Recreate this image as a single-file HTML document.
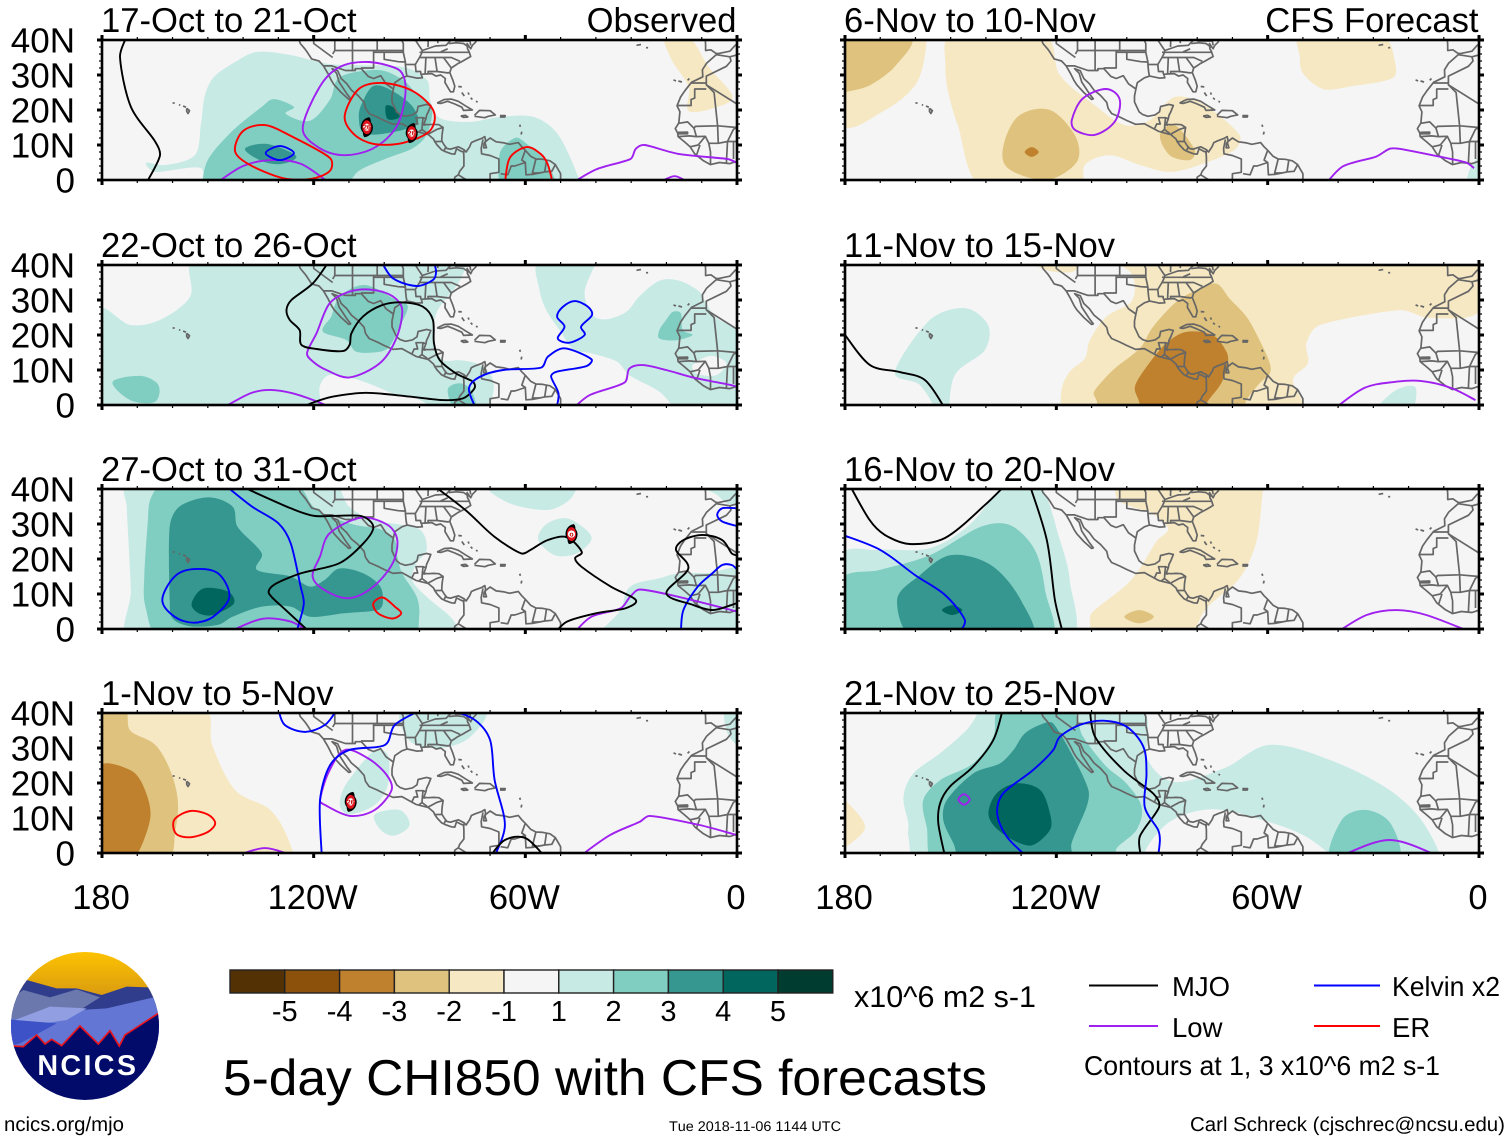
<!DOCTYPE html>
<html>
<head>
<meta charset="utf-8">
<title>5-day CHI850 with CFS forecasts</title>
<style>
html,body{margin:0;padding:0;background:#fff}
svg{display:block}
text{font-family:"Liberation Sans",sans-serif;fill:#000;font-kerning:none;text-rendering:geometricPrecision}
</style>
</head>
<body>
<svg id="chart" xmlns="http://www.w3.org/2000/svg" width="1510" height="1141" viewBox="0 0 1510 1141">
<rect width="1510" height="1141" fill="#fff"/>
<g id="panels"></g>
<g id="colorbar"></g>
<text x="854" y="1007" font-size="30" textLength="182" lengthAdjust="spacingAndGlyphs">x10^6 m2 s-1</text>
<text x="223" y="1095" font-size="50.5" textLength="764" lengthAdjust="spacingAndGlyphs">5-day CHI850 with CFS forecasts</text>
<g>
<line x1="1089" x2="1158" y1="985.5" y2="985.5" stroke="#000" stroke-width="2"/>
<text x="1172" y="996" font-size="27.5">MJO</text>
<line x1="1314" x2="1380" y1="985.5" y2="985.5" stroke="#0000ff" stroke-width="2"/>
<text x="1392" y="996" font-size="27.5" textLength="108" lengthAdjust="spacingAndGlyphs">Kelvin x2</text>
<line x1="1089" x2="1158" y1="1026" y2="1026" stroke="#a020f0" stroke-width="2"/>
<text x="1172" y="1037" font-size="27.5">Low</text>
<line x1="1314" x2="1380" y1="1026" y2="1026" stroke="#ff0000" stroke-width="2"/>
<text x="1392" y="1037" font-size="27.5">ER</text>
<text x="1084" y="1075" font-size="27.2" textLength="356" lengthAdjust="spacingAndGlyphs">Contours at 1, 3 x10^6 m2 s-1</text>
</g>
<g transform="translate(0,940) scale(0.3333)">
<defs>
<clipPath id="logoClip"><circle cx="255" cy="258" r="222"/></clipPath>
<linearGradient id="sun" x1="0" y1="0" x2="0" y2="1"><stop offset="0" stop-color="#ffc400"/><stop offset="1" stop-color="#d89a10"/></linearGradient>
</defs>
<g clip-path="url(#logoClip)">
<rect x="20" y="30" width="470" height="140" fill="url(#sun)"/>
<polygon points="20,170 80,120 170,145 230,145 305,165 380,140 445,142 500,170 500,300 20,300" fill="#2f3d8c"/>
<polygon points="20,185 70,150 150,172 230,148 300,172 240,210 20,250" fill="#6b78ae"/>
<polygon points="20,240 240,210 320,205 470,170 500,220 500,330 20,330" fill="#6476d4"/>
<polygon points="45,240 150,200 260,205 200,240 100,255" fill="#919fe2"/>
<polygon points="20,238 170,250 60,310 20,320" fill="#3c52c6"/>
<polygon points="40,318 70,320 110,285 135,312 155,298 185,317 240,258 295,312 330,272 358,318 375,285 475,220 500,220 500,500 10,500 10,318" fill="#020a6a" stroke="#e8141e" stroke-width="5"/>
</g>
<text x="112" y="405" font-size="86" font-weight="bold" textLength="296" style="fill:#fff">NCICS</text>
</g>
<text x="4" y="1131" font-size="20.2" textLength="120" lengthAdjust="spacingAndGlyphs">ncics.org/mjo</text>
<text x="669" y="1131" font-size="14" textLength="172" lengthAdjust="spacingAndGlyphs">Tue 2018-11-06 1144 UTC</text>
<text x="1190" y="1131" font-size="20" textLength="315" lengthAdjust="spacingAndGlyphs">Carl Schreck (cjschrec@ncsu.edu)</text>
</svg>
<script>
/* ---------- axis tick data ---------- */
const latTicks = [0, 10, 20, 30, 40];
const latLabels = ["0", "10N", "20N", "30N", "40N"];
const lonTicks = [180, 120, 60, 0];
const lonLabels = ["180", "120W", "60W", "0"];

/* ---------- colour scale ---------- */
const cbarLabels = ["-5", "-4", "-3", "-2", "-1", "1", "2", "3", "4", "5"];
const cbarKeys = [-6, -5, -4, -3, -2, 0, 2, 3, 4, 5, 6];

/* ---------- panel titles ---------- */
const leftTitles = ["17-Oct to 21-Oct", "22-Oct to 26-Oct", "27-Oct to 31-Oct", "1-Nov to 5-Nov"];
const rightTitles = ["6-Nov to 10-Nov", "11-Nov to 15-Nov", "16-Nov to 20-Nov", "21-Nov to 25-Nov"];

/* ---------- map outlines: [degrees west, degrees north] ---------- */
const mapLines = [
[[124.3,40.5],[123.8,39],[122.5,37.5],[121.8,36.5],[120.6,34.6],[118.5,34],[117.2,32.6],[116,30.5],[115,28.5],[114.2,27.2],[112.2,25],[110,23],[109.5,23.2],[110.5,24.5],[111.5,26],[112.8,28],[113.5,30.5],[114.8,31.8],[113.2,31.2],[112.2,29],[110.6,27.5],[109.3,25.7],[107.5,24.2],[105.7,22.2],[105.3,20.5],[104.3,19],[102,18],[100,17],[97.5,15.9],[95,16.1],[93,15],[91,13.9],[88,13.1],[87.5,13],[86,11.7],[85.7,11],[85,10],[83.7,8.6],[82.9,8.2],[81,7.5],[80,7.4],[79.5,8.9],[78.2,8.2],[77.5,8],[77.4,6.5],[77.4,4],[78.6,2.5],[79,1.5],[80,0.8],[80.2,-1]],
[[74,40.5],[74,39.5],[75,38.5],[75.5,37.5],[76.2,38.5],[76.5,39],[76.4,37.5],[76,36.8],[75.5,35.3],[76.5,34.7],[77.9,33.9],[79.2,33.2],[81,32],[81.4,30.7],[80.5,28.4],[80,26.8],[80.4,25.2],[81.2,25.2],[81.8,26.2],[82.8,27.9],[82.7,29],[84,30],[85.3,29.7],[86.5,30.4],[88,30.3],[89.5,30.2],[89.2,29.2],[90.8,29.1],[93.5,29.7],[95,29.2],[97,27.8],[97.4,26],[97.8,24],[97.8,22.3],[96.5,19.5],[95.5,18.7],[94,18.2],[92,18.6],[90.7,19.5],[90.4,21],[88,21.6],[86.8,21.3],[87.5,19.5],[88,18.5],[88.2,17.5],[88.8,15.9],[87.5,15.8],[86,15.9],[84.5,15.8],[83.3,15],[83.6,13],[83.7,11.2],[83,10],[82.2,9],[81.2,8.8],[80,9.2],[79,9.5],[77.3,8.6],[76.8,8],[75.8,9.5],[75.3,10.7],[74.2,11.2],[72.3,11.9],[71.5,12.4],[71.2,11],[71.7,10.5],[71.8,9.2],[71,9.2],[71.5,10.8],[70,12],[68.3,10.9],[66,10.6],[64.5,10.2],[62,10.7],[61,9.5],[60,8.5],[58.5,6.8],[57,6],[55,5.9],[53,5.5],[51.5,4.4],[50,1.8],[50,0.5],[50.5,-1]],
[[85,22],[83,23],[81,23.1],[79,22.5],[77,21.2],[75,20],[77.5,19.9],[78,20.8],[80,21.7],[82,22.5],[84,21.9],[85,22]],
[[74.4,18.5],[73,19.9],[70,19.8],[68.5,18.6],[70.5,18.2],[71.5,17.8],[74.4,18.2]],
[[78.3,18.3],[77,18.5],[76.3,18],[77.5,17.9],[78.3,18.3]],
[[67.2,18.4],[65.7,18.4],[65.8,18],[67.2,18]],
[[79,26.7],[78,26.6]],[[78,25],[77.3,24]],[[76.2,25],[76,24.4]],[[75.5,23.5],[75,23]],[[74,22.5],[73.5,22.3]],
[[61.6,15.8],[61.4,15.2]],[[61,13.8],[61.2,13]],
[[160,22],[159.4,22]],[[158.2,21.5],[157.8,21.4]],[[157,21.1],[156.2,20.8]],[[156,20.5],[155.2,19.8],[155.6,19],[156,19.6],[156,20.5]],
[[28.5,38.5],[27.2,38.7]],[[25.8,37.8],[25.2,37.8]],
[[18,28.6],[17.3,28.3]],[[16.6,28.3],[15.6,28]],[[14,28.5],[13.5,29]],
[[9,40.5],[8.9,38.5],[8.9,37],[7.4,37.2],[6,36.2],[5.3,36.1],[2,36.8],[0.5,38.5],[-1,39.5]],
[[-1,36],[2,35.2],[5.9,35.8],[8.6,33.4],[9.8,31.5],[9.7,29.5],[12.9,27.9],[14.8,25.5],[16,23.7],[17,21.2],[16.2,19.5],[16.5,16.3],[17.5,14.7],[16.8,13.4],[16.7,12.4],[15,11],[13.3,9.5],[12,7.5],[9.5,5.5],[7.5,4.4],[5,5],[2,4.7],[-1,5.7]],
[[2,35.2],[1.7,34],[3,32.5],[8.7,29.7],[8.7,27.7]],
[[13,27.7],[8.7,27.7],[8.7,27.2],[0,21.7]],
[[8.7,26],[12,26],[12,23.4],[13,23],[13,21.3],[17,21.3]],
[[8.7,27.2],[6.5,25],[5.5,15.5],[11.8,15.3],[12.2,14.8],[14,16.6],[16.5,16.2]],
[[5.5,15.5],[0,15]],
[[12.2,14.8],[11.5,12.4],[13.5,12.6],[16.7,12.4]],
[[16.7,13.6],[14,13.7],[14,13.2],[16.7,13.2]],
[[11.5,12.4],[9,12.5],[8,10.5],[7.5,8],[7.5,4.4]],
[[10.5,10],[11.5,7]],[[13.3,9.5],[11,10],[9,12.5]],
[[8,10.5],[5.3,10.5],[2.7,11],[0,11]],
[[5.3,10.5],[5.5,15.5]],[[2.7,11],[3,5]],[[2.7,11],[1,14.5],[0,15]],[[1,11],[1,6]],
[[117.2,32.6],[114.8,32.6],[111,31.3],[108.2,31.3],[108.2,31.8],[106.5,31.8],[104.5,29.6],[103,29],[101,29.8],[99.5,27.5],[97.4,26]],
[[120,40.5],[120,39],[114.6,35]],[[114,40.5],[114,37],[114.6,36]],[[114,37],[94.6,37]],
[[109,40.5],[109,31.3]],[[103,37],[103,32],[106.6,32]],[[102,37],[102,40.5]],[[103,36.5],[100,36.5],[100,34.5],[96,33.8],[94,33.7]],[[100,36.5],[94.6,36.5]],
[[94.6,37],[94.6,36.5],[94,33.7],[94,33],[93.8,31],[93.6,29.8]],[[94,33],[91.2,33]],[[91.2,33],[91,31],[89.7,31],[89.6,30.2]],
[[94.6,37],[94.6,39],[95.3,40.5]],[[91.5,40.5],[90.2,38.5],[89.2,37],[89.5,36],[90,35],[91.2,33]],
[[90,36.5],[75.9,36.5]],[[90,35],[84.3,35],[81,35],[78.5,33.9]],[[88.2,35],[88.4,30.3]],[[85.6,35],[85,31],[87.6,31],[87.5,30.3]],
[[85,31],[82,30.6],[81.5,30.7]],[[83.2,35],[81,32]],[[89.2,37],[85.5,38.3],[82.5,38.5],[80.6,40.5]],[[82,37.5],[84,36.6]],[[87.5,40.5],[87.6,38]],[[84.8,40.5],[84.8,39.1]],
[[81.7,39],[79.5,39.2],[77.5,39],[76,37.9]],[[80,39.7],[75.7,39.7],[75.5,38.5]],
[[92.2,14.5],[91.5,16],[90.5,16],[91,17.8],[89,17.8],[88.2,17.5]],[[89,17.8],[89.2,15.8],[88.3,15.7]],[[89.3,14.4],[90.1,13.8]],[[89.2,15.8],[89.3,14.4],[87.8,13.3]],[[87.6,13.1],[85,14.5],[83.3,15]],
[[85.7,11],[83.7,11]],[[83,8.5],[82.5,9.5]],
[[77.3,8.6],[77.5,7.5]],[[72,11.6],[72.5,9],[72.4,7.5],[70,7],[67.5,6],[67.5,2.2],[70,1.8],[70,-1]],[[79,1.5],[75,-1]],
[[60,8.5],[61,5.7],[60,5],[63,4],[64,4],[65,1.5],[67,1.8]],[[57,6],[58,2],[56,2]],[[54,5.7],[54.5,2.3]],[[60,5],[59.8,1.5],[58,1.6],[56,2],[54.5,2.3],[52.5,2.5],[51.5,4.4]]
];

/* ---------- panel 1: 17-Oct to 21-Oct ---------- */
const p1Shades = [
[-2,[[20.5,41],[13.7,41],[8,32.3],[1.3,24],[5.5,20.9],[13.7,19.7],[13.7,26.6],[18.5,34.3]]],
[2,[[151,-3],[152,3.4],[165,2.3],[167.5,4.9],[162,4.3],[153.7,7.1],[152,15.7],[150.8,24.3],[148.3,29.4],[142.3,33.7],[136,36.6],[126.5,35.7],[115.4,33.1],[94.7,32.3],[87.9,28.6],[87,22.9],[84.2,17.7],[75.8,16.6],[67.3,18],[57.6,18],[50.8,13.1],[45.2,1.4],[44.6,-3]]],
[3,[[149.7,-3],[150.5,4.6],[144,13.1],[134.7,20.9],[131.3,23.1],[125.6,20.9],[127.9,18.9],[121.1,16.9],[115.4,22.9],[112.6,29.4],[101.5,31.4],[94.7,28.6],[90.8,24.6],[86.5,20.9],[87.9,13.1],[91.9,9.1],[99,6.3],[107.2,2.6],[112.6,-3]]],
[3,[[67.3,7.4],[63,12],[59.6,10.3],[53.7,4.6],[52.2,-3],[65.8,-3]]],
[4,[[139.5,8.9],[133.3,10.3],[125,6.9],[129,4.6],[134.7,5.4]]],
[4,[[106.4,21.7],[103,26.9],[97.6,25.4],[91.9,20.9],[90.8,16],[99,13.4],[105.8,13.4],[107.2,18]]],
[5,[[99.6,21.1],[97.6,20.9],[95.6,18],[99,17.4]]]
];
const p1Lines = [
["mjo",0,[[173,41],[174.9,35.1],[171.8,20.9],[165,11.1],[163.6,6.9],[167.5,-1]]],
["low",1,[[123.1,14.6],[118.3,26.6],[112.6,32.3],[104.4,33.7],[96.2,31.7],[94.2,28.6],[94.2,22.9],[96.7,14.9],[103,9.1],[111.2,7.1],[118.3,9.1]]],
["low",0,[[147.7,-1],[140,4],[131.8,5.7],[123.6,4.6],[115.4,-1]]],
["low",0,[[46.9,-1],[39.8,3.1],[30.2,6],[28.7,8.9],[26.2,10],[16.3,7.4],[2.7,6],[0,4.9]]],
["low",0,[[22.5,-1],[17.7,1.1],[13.4,-1]]],
["er",1,[[142.3,8.3],[140,14],[133.8,15.7],[126.5,12.6],[115.4,6.3],[115.4,2.6],[120.8,0.3],[129,0.6],[138.6,4.6]]],
["er",1,[[111.2,18.3],[107.2,26],[100.4,27.7],[91.9,25.4],[86,19.7],[87.1,14],[94.7,10.6],[103,10.3],[108.6,13.1]]],
["er",0,[[65.8,-1],[64.4,6.3],[59.6,9.4],[55.6,7.4],[53.7,4.6],[52.2,-1]]],
["kelvin",1,[[133.6,7.7],[129.6,9.7],[125.6,7.7],[129.6,5.7]]]
];
const p1Storms = [[104.9,15.1,"26"],[92.2,13.4,"26"]];

/* ---------- panel 2: 22-Oct to 26-Oct ---------- */
const p2Shades = [
[2,[[154,41],[155,31],[163.6,24.3],[172,22.9],[181,27],[181,-3],[119.3,-3],[118.3,5.3],[115.5,8.6],[108.9,7.6],[103.2,5.7],[97.5,3.3],[90.9,1.9],[81.5,-3],[72,-3],[69,4.3],[70,9],[73.9,11.9],[78.6,12.8],[83.4,12.9],[85.7,17.6],[85.7,24.3],[84.3,28],[78.7,35.3],[77.7,41]]],
[2,[[56,41],[56,33],[54,27],[50,21],[46.5,16],[41,14.7],[34,12.4],[30.5,8.5],[22,3.8],[14.5,-3],[-1,-3],[-1,20],[6,25],[9,29.5],[10.7,32.4],[16.3,35.5],[22,35.5],[27.7,31],[31.4,26.6],[37,24.5],[41,25.7],[43.2,31.9],[41,38.5],[40,41]]],
[0,[[12.5,11.5],[7.5,14],[3,12],[6,8.5],[11.5,9]]],
[3,[[117.4,21],[115,25.3],[112.6,31],[105.5,34.3],[96.6,30],[93.3,28.1],[96.1,21.4],[98.5,16.7],[101.3,15.2],[107.9,15.2],[110.8,18.6]]],
[3,[[82,4.3],[78.7,6.2],[75.4,4.3],[74,-2],[79.6,-2]]],
[3,[[177,6.6],[169,8.3],[164,5.7],[165,0.9],[172,1.4]]],
[3,[[18.2,26.6],[15.9,26.2],[15.4,21.4],[12.6,20],[17.3,18.5],[22,19],[22,21.4],[20.1,24.3]]]
];
const p2Lines = [
["low",1,[[121.9,14.8],[119.2,20.5],[115.5,29],[109.8,32.4],[103.2,32.9],[97.5,31],[94.9,27.2],[96.6,19],[101.3,11.9],[109.8,7.9],[116.4,10],[120.2,12.4]]],
["low",0,[[146,-1],[138,3.3],[132.4,4.3],[125.8,3.3],[117.8,0.5],[115,-1]]],
["low",0,[[46.5,-1],[41.8,2.8],[31.9,6.4],[30.5,10.4],[26.7,11.4],[20.1,10],[12.6,7.9],[1.7,5.7],[0,5.2]]],
["mjo",0,[[115.7,41],[120.2,34.8],[126.3,30],[127.7,27.2],[126.8,24.3],[124,21.4],[123.5,17.2],[119.2,16],[111.7,15.4],[109.8,17.2],[109.3,20.5],[106,25.3],[100.4,28.6],[94.7,29.3],[89.1,28.1],[86.2,24.3],[85.9,17.6],[84.3,12.9],[79.6,9],[74.9,6.7],[74.4,4.8],[77.7,1.9],[83.4,1.4],[92.8,2.4],[105.1,3.5],[114.5,2.4],[120.2,0.7],[124,-1]]],
["kelvin",0,[[100.8,41],[97.5,36.2],[90.9,34],[86.2,35.7],[85.3,38.1],[86,41]]],
["kelvin",1,[[46,29.7],[42.3,28.1],[41.1,25.7],[44.2,22.4],[43.2,20],[47.5,17.8],[50.8,19],[48.9,22.4],[51,25.2],[49.4,28]]],
["kelvin",0,[[74,-1],[76,4.7],[73,8],[66.3,10],[55.5,10.7],[53.6,13.8],[48.9,16.2],[41.3,13.1],[42.7,11.1],[51.2,9.5],[52.7,8.1],[50.6,3.3],[51.2,-1]]]
];
const p2Storms = [];

/* ---------- panel 3: 27-Oct to 31-Oct ---------- */
const p3Shades = [
[2,[[173,41],[173,35],[171.8,11],[171.8,-3],[79,-3],[80.5,2.6],[88,9.2],[92.1,14],[90.8,18.8],[88,22.6],[89.4,28],[94.9,29.7],[103.1,31.1],[110,35],[114.1,41]]],
[2,[[56.4,26.4],[53.7,30.2],[48.2,31.6],[42.7,28.3],[41.3,25.4],[45.4,21.6],[51,20.9],[55,23.5]]],
[2,[[70.2,41],[64.7,36],[53.7,34],[47.5,36.9],[46.1,41]]],
[2,[[9.7,41],[5.6,38.3],[2.9,35.9],[-1,36],[-1,41]]],
[2,[[38.6,-3],[33,5.4],[30.3,12.1],[22,14.5],[16.6,15.9],[8,16],[-1,16.4],[-1,-3]]],
[3,[[163,41],[166.3,37],[167,31],[168,15],[167.7,6.4],[163,-3],[92.1,-3],[90.1,3.5],[90.8,9.2],[94.9,15.9],[96.3,20.7],[97,25.4],[100.4,28.3],[110,30.2],[119.6,34.5],[125,41]]],
[4,[[160.8,29.2],[158,35],[149.8,37.6],[143,35],[141.6,29.2],[134.7,21.6],[136.1,16.9],[126.5,15],[121,12.1],[116.9,14],[112.7,17.3],[105.9,15.9],[101.1,12.1],[100.4,7.3],[101.8,5.4],[111.4,4.5],[121,3.5],[126.5,6.4],[134.7,6.4],[143,3.5],[147,1.2],[155,0.8],[160,3],[160.8,8.3]]],
[5,[[154.6,7.3],[151.2,11.6],[144.3,10.7],[142.6,7.3],[148.5,4],[152.6,4.5]]]
];
const p3Lines = [
["low",1,[[120.3,15],[118.2,20.7],[115.5,27.3],[106.6,31.8],[99,29.7],[96.3,25.4],[97.6,18.8],[103.1,12.1],[110,8.8],[116.9,11.1]]],
["low",0,[[144.3,-1],[134.7,2.9],[126.5,2.1],[121,-1]]],
["low",0,[[46.1,-1],[41.3,3.5],[33,5.9],[30.3,9.2],[27.6,11.3],[16.6,9.2],[0,5]]],
["er",1,[[103.1,7.3],[100.4,9],[97,6.4],[95.2,4.5],[97.6,3],[101.8,4.5]]],
["kelvin",1,[[162.9,8.3],[159.4,15],[154,17.1],[147.1,15.9],[143.9,9.2],[148.5,3.5],[154,1.8],[159.4,3.5]]],
["kelvin",0,[[145,41],[137.5,35],[130,30.2],[126.5,24.5],[123.7,12.1],[122.8,7.3],[124.4,0.7],[125,-1]]],
["kelvin",0,[[15.9,-1],[15.2,5.4],[11.1,12.1],[7,15.9],[4.2,18.3],[1.5,18.3],[0,17]]],
["kelvin",0,[[0,34.5],[4.2,34.5],[5.6,32.6],[4.2,30.7],[0,29.4]]],
["mjo",0,[[141,41],[126.5,34.5],[119.6,32.3],[106.6,32.3],[103.1,29.2],[105.9,24.5],[112.7,18.8],[123.7,15.9],[131.3,12.6],[132.7,10.2],[127.9,5.4],[121,-1]]],
["mjo",0,[[86,41],[77,34],[68.8,26.4],[61.2,21.6],[58.5,22.6],[53.7,25.4],[48.2,26.2],[44,22],[45.9,20.2],[44.1,17.8],[35.8,12.1],[28.7,8.3],[31.7,5.9],[40,4.5],[48.2,2.1],[51.6,-1]]],
["mjo",0,[[0,21],[1.5,21.6],[4.2,25.4],[9.7,26.9],[15.2,25.4],[17.3,22.6],[13.8,17.3],[20,10.2],[12.5,6.9],[6.9,5.4],[1.5,6.9],[0,7.4]]]
];
const p3Storms = [[46.9,27.1,"o"]];

/* ---------- panel 4: 1-Nov to 5-Nov ---------- */
const p4Shades = [
[-2,[[181,41],[151,41],[148.8,30.9],[142.3,18],[132.3,12.3],[127.1,3.7],[126.5,-3],[181,-3]]],
[-3,[[181,41],[173.5,41],[172,35],[165,31],[160.7,23.7],[158.5,15],[159.2,6.6],[162,-3],[181,-3]]],
[-4,[[181,24.3],[172,23.7],[167.8,18],[166.4,9.4],[172,-3],[181,-3]]],
[2,[[94.6,41],[92.8,32],[84.2,30],[75.8,33],[71.8,41]]],
[2,[[111,19.4],[102.7,29.4],[99,28],[99,19.4],[102.7,13.7],[110,11],[112.6,13.7]]],
[2,[[102.7,11],[95.6,12.3],[92.8,8],[97,5],[101,6.6]]],
[2,[[3.5,41],[-1,41],[-1,31],[2.6,34]]]
];
const p4Lines = [
["low",1,[[118.2,15],[115.8,23],[111.2,29.4],[104.5,27],[99.3,22.3],[97.9,18],[102.7,12.3],[109.7,10.6],[116.8,13.7]]],
["low",0,[[142.3,-1],[133.8,1.4],[125.4,-1]]],
["low",0,[[44.6,-1],[36,5.1],[27.6,8.9],[24.8,10.6],[10.6,8],[0,5.1]]],
["er",1,[[159.5,9.5],[155,12],[150,11],[147.9,8.5],[150,6],[155,4.5],[159,5.5]]],
["kelvin",0,[[130,41],[128.2,36.6],[122.5,34.6],[116.8,36.6],[113.4,41]]],
["kelvin",0,[[117.7,-1],[118.2,15],[115.4,25],[110,29.4],[99.8,30.9],[97,36.6],[89.4,41]]],
["kelvin",0,[[81.4,41],[74.3,38],[70,32.3],[68.7,20.9],[65.8,8],[68.7,-1]]],
["mjo",0,[[70,-1],[65.8,3.7],[60,4.3],[54.5,-1]]]
];
const p4Storms = [[109.5,14.6,"26"]];

/* ---------- panel 5: 6-Nov to 10-Nov ---------- */
const p5Shades = [
[-2,[[181,16],[168.6,20],[160.1,27.1],[157.3,35.7],[158,41],[181,41]]],
[-2,[[150.2,41],[151.5,33],[150.8,25.7],[148,15.7],[140.3,-3],[113.3,-3],[111.9,4.3],[104.8,7.1],[96.3,4.3],[87.8,2.3],[79.3,4.3],[69.4,8.6],[68,12.9],[77.9,21.4],[86.4,23.7],[93.5,17.1],[100.6,15.7],[109.1,21.4],[119,30],[123.2,41]]],
[-2,[[50.9,41],[50.9,35.3],[50,30.5],[44.3,26],[36.7,26.7],[24.5,29.1],[23.8,33.4],[27.3,41]]],
[-3,[[181,41],[161.6,41],[165.4,32.9],[172.9,27.1],[180,25.1],[181,25]]],
[-3,[[130.3,18.6],[121.8,20],[114.8,12.9],[113.9,5.7],[120.4,0.6],[127.5,0.6],[134.6,4.3],[134.6,11.4]]],
[-3,[[86.4,15.7],[80.7,8.6],[82.1,5.7],[87.8,7.1],[90.6,12.9]]],
[-4,[[129,8],[127,9.4],[125,8],[127,6.6]]],
[2,[[3,-3],[3,2],[0,6],[-1,-3]]]
];
const p5Lines = [
["low",1,[[115.6,17.1],[112.5,23.3],[105.8,26],[102,23],[103.4,16.7],[109,12.9],[114.7,14.3]]],
["low",0,[[43.4,-1],[38.6,3.9],[29.2,6.7],[25.4,8.9],[22.6,8.9],[11.3,6.7],[3.7,5],[1.4,3.4]]]
];
const p5Storms = [];

/* ---------- panel 6: 11-Nov to 15-Nov ---------- */
const p6Shades = [
[-2,[[126,41],[124.7,39.3],[120.9,38.1],[115.2,38.1],[113.5,41]]],
[-2,[[102.5,41],[98.7,37.6],[97.7,32.8],[99.2,29],[105.8,25.2],[110.5,18.5],[111.9,13.3],[116.2,9.5],[118.6,3.8],[117,-3],[50,-3],[52.8,7.1],[48.6,11.9],[49,17.6],[45.3,22.8],[22.5,27.1],[14,24.9],[0,26.6],[-1,41]]],
[-3,[[109.3,3.8],[103.9,10],[96.3,16.2],[92.5,22.4],[85.9,29.5],[80.3,32.8],[74.6,34.7],[70.8,30.4],[66,25.2],[62.3,18.5],[59.4,11.9],[59.4,9],[62.3,6.2],[66,1.4],[68,-3],[106.7,-3],[108.6,1.4]]],
[-4,[[97.7,5.2],[94.4,10.9],[88.8,17.6],[83.1,20.9],[75.6,20],[71.7,15.2],[71.3,11.9],[73.2,6.2],[77.4,0.4],[78,-3],[95.4,-3],[96.5,1]]],
[2,[[165.8,9.4],[155.9,24.3],[146,27.7],[139.4,22.9],[140.3,15.7],[148.8,8.6],[150.8,-3],[153,-3],[158.7,5.7]]],
[2,[[30,-3],[24,4],[18,5],[20,-3]]]
];
const p6Lines = [
["mjo",0,[[180,20],[172.9,11.4],[164.4,9.4],[157.3,7.1],[151.6,-1]]],
["low",0,[[41,-1],[32.5,4.9],[24,6.6],[16.6,6.9],[8,4.9],[1,1.4]]]
];
const p6Storms = [];

/* ---------- panel 7: 16-Nov to 20-Nov ---------- */
const p7Shades = [
[-2,[[102.5,41],[102.5,36.9],[97.3,34.5],[93.5,33.5],[88.3,28.8],[91.6,25],[96.3,17.3],[100.1,12.6],[109.6,5],[110.5,2.6],[108.6,-3],[83.6,-3],[77.4,5.9],[68,14.5],[63.2,25],[61.4,39.2],[60.9,41]]],
[-3,[[100.7,3.5],[96.5,5.4],[92.3,3.5],[96.5,1.6]]],
[2,[[181,21],[170,22.6],[155.9,23.1],[144.7,29.7],[134.6,41],[124.7,41],[119,25.4],[116.2,14],[116.8,-3],[181,-3]]],
[3,[[181,14],[170,16.9],[155.9,21.1],[141.7,29.1],[133.2,29.7],[126.1,22.6],[123.2,11.1],[122.4,-3],[179,-3]]],
[4,[[165.2,8.3],[158.7,15.4],[149.9,21.1],[138.6,18.3],[130.1,8.3],[127.5,-3],[160,-3]]],
[5,[[152.5,5.4],[149.6,6.8],[146.7,5.4],[149.6,4]]]
];
const p7Lines = [
["mjo",0,[[178.6,41],[173,31.1],[168.7,26.9],[161.7,24.3],[151.6,26],[140.3,35.4],[134.6,41]]],
["mjo",0,[[127.5,41],[122.7,25.4],[120.4,8.3],[118.2,-1]]],
["kelvin",0,[[181,27],[170,22.6],[160.1,15.4],[151.6,9.7],[146,2.6],[147.4,-1]]],
["low",0,[[40.4,-1],[31.9,4],[23.4,5.4],[15,4],[2,-1]]]
];
const p7Storms = [];

/* ---------- panel 8: 21-Nov to 25-Nov ---------- */
const p8Shades = [
[-2,[[181,16],[179.5,14.7],[174.3,7.5],[179.5,1.8],[181,1]]],
[2,[[142.6,41],[142.6,39.4],[145.5,35.1],[153,28.5],[160.6,22.7],[163.4,16.1],[162,8.5],[162,4.7],[159.2,-3],[12.6,-3],[15.4,8],[25.4,18],[42.4,26.6],[59.4,30.9],[72.2,24.3],[86.4,20.3],[94,26.6],[96.3,41]]],
[0,[[94,-3],[89,8],[76,12.5],[60,9],[48,4],[42,-3]]],
[3,[[41.8,-3],[39,9.4],[31.9,12.3],[24.8,8],[23.4,-3]]],
[3,[[136,41],[137.9,33.2],[143.6,25.6],[153,20.8],[157.8,15.1],[156.8,7.5],[154,-3],[103.4,-3],[102.9,1.3],[97.2,6.6],[95.8,13.2],[100.1,19.9],[105.8,24.7],[112.4,33.2],[116.1,41]]],
[4,[[123.7,37],[128.9,34.2],[132.2,29.4],[136,25.6],[143.6,22.7],[151.1,15.1],[152.1,9.4],[149.2,2.7],[146.4,-3],[116.1,-3],[115.7,2.7],[111.4,13.2],[110.9,18],[115.2,27.5],[120.9,37]]],
[5,[[139.3,11.3],[137,17],[131.3,19.9],[124.6,18],[121.8,11.3],[121.8,6.6],[126.6,2.3],[131.3,3.2],[137,7]]]
];
const p8Lines = [
["mjo",0,[[135.2,41],[137.9,32.3],[143.6,24.7],[150.2,19],[153,14.2],[153.5,8.5],[151.6,-1]]],
["mjo",0,[[110.5,41],[109,33.2],[101,23.7],[92.5,17],[90.8,13.2],[96.3,4.7],[96,-1]]],
["kelvin",0,[[128.4,-1],[134.1,4.7],[136.8,11.3],[135.1,17],[126.6,23.7],[120.9,29.4],[119,33.2],[113.3,36.6],[106.7,37.8],[100.1,36.1],[95.3,30.4],[94.4,22.7],[94.9,13.2],[91.1,6.6],[90.6,3.7],[91.1,-1]]],
["low",1,[[147.8,15.3],[146.2,16.8],[144.6,15.3],[146.2,13.8]]],
["low",0,[[39.6,-1],[25.4,3.7],[11.2,-1]]]
];
const p8Storms = [];

/* ---------- rendering ---------- */
const NS = "http://www.w3.org/2000/svg";
const LEVEL_COLORS = {"-6":"#543005","-5":"#8c510a","-4":"#bf812d","-3":"#dfc27d","-2":"#f6e8c3","0":"#f5f5f5","2":"#c7eae5","3":"#80cdc1","4":"#35978f","5":"#01665e","6":"#003c30"};
const LINE_COLORS = {mjo:"#000000",low:"#a020f0",kelvin:"#0000ff",er:"#ff0000"};
const PH = 140;
const columnLefts = [102, 845];
const columnWidths = [635, 634];
const rowTops = [40, 265, 489, 713];

function mk(tag, attrs, parent){
  const el = document.createElementNS(NS, tag);
  for (const k in attrs) el.setAttribute(k, attrs[k]);
  parent.appendChild(el);
  return el;
}
function lonScale(x0, pw){ return function(w){ return x0 + (180 - w) / 180 * pw; }; }
function latScale(top){ return function(lat){ return top + PH - lat / 40 * PH; }; }
function fmt(v){ return v.toFixed(1); }

/* tangent handle, capped to a third of the neighbouring segment so long edges do not overshoot */
function handle(a, b, segLen){
  let hx = (b[0] - a[0]) / 6, hy = (b[1] - a[1]) / 6;
  const len = Math.hypot(hx, hy), cap = segLen / 3;
  if (len > cap && len > 0){ hx *= cap / len; hy *= cap / len; }
  return [hx, hy];
}
function smoothPath(pts, closed, sx, sy){
  const P = pts.map(function(p){ return [sx(p[0]), sy(p[1])]; });
  const n = P.length;
  const at = function(i){
    if (closed) return P[(i + n) % n];
    return P[Math.max(0, Math.min(n - 1, i))];
  };
  let d = "M" + fmt(P[0][0]) + " " + fmt(P[0][1]);
  const segs = closed ? n : n - 1;
  for (let i = 0; i < segs; i++){
    const p0 = at(i - 1), p1 = at(i), p2 = at(i + 1), p3 = at(i + 2);
    const seg = Math.hypot(p2[0] - p1[0], p2[1] - p1[1]);
    const h1 = handle(p0, p2, seg), h2 = handle(p1, p3, seg);
    d += "C" + fmt(p1[0] + h1[0]) + " " + fmt(p1[1] + h1[1]) + " " +
         fmt(p2[0] - h2[0]) + " " + fmt(p2[1] - h2[1]) + " " +
         fmt(p2[0]) + " " + fmt(p2[1]);
  }
  return closed ? d + "Z" : d;
}

function drawStorm(parent, s, sx, sy){
  const g = mk("g", {transform: "translate(" + fmt(sx(s[0])) + "," + fmt(sy(s[1])) + ")"}, parent);
  
  
  mk("path", {d: "M2 -10C-3 -9 -6 -5 -6 0C-6 2 -5 4 -4 5C-4 8 -3 10 -2 10C3 9 6 5 6 0C6 -2 5 -4 4 -5C4 -8 3 -10 2 -10Z", fill: "#000"}, g);
  mk("ellipse", {cx: 0, cy: 0, rx: 4.6, ry: 7, fill: "#e0141c"}, g);
  mk("circle", {cx: 0, cy: 0, r: 3.6, fill: "#fff"}, g);
  const t = mk("text", {x: 0, y: 2.5, "font-size": 7, "text-anchor": "middle", "font-weight": "bold"}, g);
  t.style.fill = "#c00";
  t.textContent = s[2];
}

function drawPanel(idx, x0, pw, top, title, extra, shades, lines, storms, showLat, showLon){
  const root = document.getElementById("panels");
  const sx = lonScale(x0, pw), sy = latScale(top);
  const g = mk("g", {}, root);
  
  
  const defs = mk("defs", {}, g);
  const cp = mk("clipPath", {id: "clip" + idx}, defs);
  mk("rect", {x: x0, y: top, width: pw, height: PH}, cp);

  const bg = mk("rect", {x: x0, y: top, width: pw, height: PH, fill: LEVEL_COLORS[0]}, g);
  
  

  const inner = mk("g", {"clip-path": "url(#clip" + idx + ")"}, g);
  shades.forEach(function(s){
    const el = mk("path", {d: smoothPath(s[1], true, sx, sy), fill: LEVEL_COLORS[s[0]]}, inner);
    
    
  });
  const map = mk("g", {fill: "none", stroke: "#666", "stroke-width": 1.7, "stroke-linejoin": "round"}, inner);
  
  
  mapLines.forEach(function(l){
    const pts = l.map(function(p){ return fmt(sx(p[0])) + "," + fmt(sy(p[1])); }).join(" ");
    mk("polyline", {points: pts}, map);
  });
  lines.forEach(function(l){
    const el = mk("path", {d: smoothPath(l[2], l[1] === 1, sx, sy), fill: "none", stroke: LINE_COLORS[l[0]], "stroke-width": 1.9}, inner);
    
    
  });
  storms.forEach(function(s){ drawStorm(inner, s, sx, sy); });

  const axes = mk("g", {stroke: "#000", fill: "none"}, g);
  
  
  mk("rect", {x: x0, y: top, width: pw, height: PH, "stroke-width": 2.6}, axes);
  const bottomY = sy(0), rightX = sx(0);
  for (let w = 180; w >= 0; w -= 10){
    const major = w % 60 === 0;
    const len = major ? 5 : 3;
    const sw = major ? 3 : 1.2;
    mk("line", {x1: sx(w), x2: sx(w), y1: top, y2: top - len, "stroke-width": sw}, axes);
    mk("line", {x1: sx(w), x2: sx(w), y1: bottomY, y2: bottomY + len, "stroke-width": sw}, axes);
  }
  for (let lat = 0; lat <= 40; lat += 2){
    const major = lat % 10 === 0;
    const len = major ? 5 : 3;
    const sw = major ? 3 : 1.2;
    mk("line", {x1: x0, x2: x0 - len, y1: sy(lat), y2: sy(lat), "stroke-width": sw}, axes);
    mk("line", {x1: rightX, x2: rightX + len, y1: sy(lat), y2: sy(lat), "stroke-width": sw}, axes);
  }

  const t = mk("text", {x: x0 - 1, y: top - 8, "font-size": 34.6}, g);
  
  
  t.textContent = title;
  if (extra){
    const e = mk("text", {x: rightX - 0.5, y: top - 8, "font-size": 34.6, "text-anchor": "end"}, g);
    
    
    e.textContent = extra;
  }
  if (showLat){
    latTicks.forEach(function(v, i){
      const el = mk("text", {x: 75, y: sy(v) + 12.5, "font-size": 35, "text-anchor": "end"}, g);
      
      
      el.textContent = latLabels[i];
    });
  }
  if (showLon){
    lonTicks.forEach(function(v, i){
      const el = mk("text", {x: sx(v) - 1, y: 909, "font-size": 34.5, "text-anchor": "middle"}, g);
      
      
      el.textContent = lonLabels[i];
    });
  }
}

const leftPanels = [[p1Shades,p1Lines,p1Storms],[p2Shades,p2Lines,p2Storms],[p3Shades,p3Lines,p3Storms],[p4Shades,p4Lines,p4Storms]];
const rightPanels = [[p5Shades,p5Lines,p5Storms],[p6Shades,p6Lines,p6Storms],[p7Shades,p7Lines,p7Storms],[p8Shades,p8Lines,p8Storms]];

leftPanels.forEach(function(p, i){
  drawPanel("L" + i, columnLefts[0], columnWidths[0], rowTops[i], leftTitles[i], i === 0 ? "Observed" : "", p[0], p[1], p[2], true, i === 3);
});
rightPanels.forEach(function(p, i){
  drawPanel("R" + i, columnLefts[1], columnWidths[1], rowTops[i], rightTitles[i], i === 0 ? "CFS Forecast" : "", p[0], p[1], p[2], false, i === 3);
});

/* colour bar */
(function(){
  const cb = document.getElementById("colorbar");
  const x0 = 230, w = 54.8, y = 970, h = 23;
  cbarKeys.forEach(function(k, i){
    const r = mk("rect", {x: x0 + i * w, y: y, width: w, height: h, fill: LEVEL_COLORS[k], stroke: "#222", "stroke-width": 1.4}, cb);
    
    
  });
  cbarLabels.forEach(function(lab, i){
    const t = mk("text", {x: x0 + (i + 1) * w, y: 1021, "font-size": 29, "text-anchor": "middle"}, cb);
    
    
    t.textContent = lab;
  });
})();
</script>
</body>
</html>
